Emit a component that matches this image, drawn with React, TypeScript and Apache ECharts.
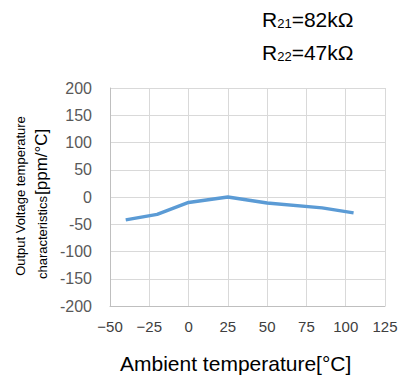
import React, { useEffect, useRef } from "react";
import * as echarts from "echarts";

const temps = [-40, -20, 0, 25, 50, 85, 105];
const values = [-42, -32, -10, 0, -11, -20, -29];
const xTicks = { min: -50, max: 125, interval: 25 };
const yTicks = { min: -200, max: 200, interval: 50 };
const xTitle = "Ambient temperature[°C]";
const yTitle1 = "Output Voltage temperature";
const yTitle2a = "characteristics";
const yTitle2b = "[ppm/°C]";
const notes = [
  { sub: "21", val: "=82kΩ" },
  { sub: "22", val: "=47kΩ" },
];

const FONT = "'Liberation Sans', Arial, sans-serif";

export default function App() {
  const ref = useRef<HTMLDivElement>(null);
  useEffect(() => {
    if (!ref.current) return;
    document.body.style.margin = "0";
    const chart = echarts.init(ref.current, undefined, { renderer: "svg" });
    const richNote = {
      m: { fontSize: 21, fontFamily: FONT, fill: "#000", color: "#000" },
      s: { fontSize: 13, fontFamily: FONT, fill: "#000", color: "#000", padding: [9, 0, 0, 0] },
    };
    chart.setOption({
      animation: false,
      textStyle: { fontFamily: FONT },
      grid: { left: 110, right: 16, top: 88, bottom: 72, containLabel: false },
      xAxis: {
        type: "value",
        min: xTicks.min,
        max: xTicks.max,
        interval: xTicks.interval,
        axisLine: { show: true, onZero: false, lineStyle: { color: "#bfbfbf", width: 1 } },
        axisTick: { show: false },
        splitLine: { show: true, lineStyle: { color: "#d9d9d9", width: 1 } },
        axisLabel: {
          color: "#404040",
          fontSize: 15,
          margin: 13,
          fontFamily: FONT,
          formatter: (v: number) => (v < 0 ? "−" + Math.abs(v) : String(v)),
        },
      },
      yAxis: {
        type: "value",
        min: yTicks.min,
        max: yTicks.max,
        interval: yTicks.interval,
        axisLine: { show: true, onZero: false, lineStyle: { color: "#bfbfbf", width: 1 } },
        axisTick: { show: false },
        splitLine: { show: true, lineStyle: { color: "#d9d9d9", width: 1 } },
        axisLabel: { color: "#595959", fontSize: 16, margin: 18, fontFamily: FONT },
      },
      series: [
        {
          type: "line",
          data: temps.map((t, i) => [t, values[i]]),
          showSymbol: false,
          symbol: "none",
          lineStyle: { color: "#5B9BD5", width: 3.4 },
        },
      ],
      graphic: [
        {
          type: "text",
          left: 120,
          top: 353,
          style: { text: xTitle, fontSize: 21, fontFamily: FONT, fill: "#000" },
        },
        {
          type: "text",
          x: 27,
          y: 196,
          rotation: Math.PI / 2,
          style: {
            text: yTitle1,
            fontSize: 13,
            fontFamily: FONT,
            fill: "#000",
            align: "center",
            verticalAlign: "bottom",
          },
        },
        {
          type: "text",
          x: 49,
          y: 196,
          rotation: Math.PI / 2,
          style: {
            text: yTitle2a,
            fontSize: 13,
            fontFamily: FONT,
            fill: "#000",
            align: "right",
            verticalAlign: "bottom",
          },
        },
        {
          type: "text",
          x: 50,
          y: 195,
          rotation: Math.PI / 2,
          style: {
            text: yTitle2b,
            fontSize: 17,
            fontFamily: FONT,
            fill: "#000",
            align: "left",
            verticalAlign: "bottom",
          },
        },
        ...notes.map((n, i) => ({
          type: "text",
          x: 262,
          y: 8 + i * 33,
          style: {
            text: "{m|R}{s|" + n.sub + "}{m|" + n.val + "}",
            rich: richNote,
          },
        })),
      ],
    });
    return () => chart.dispose();
  }, []);
  return <div ref={ref} style={{ width: 401, height: 378 }} />;
}
